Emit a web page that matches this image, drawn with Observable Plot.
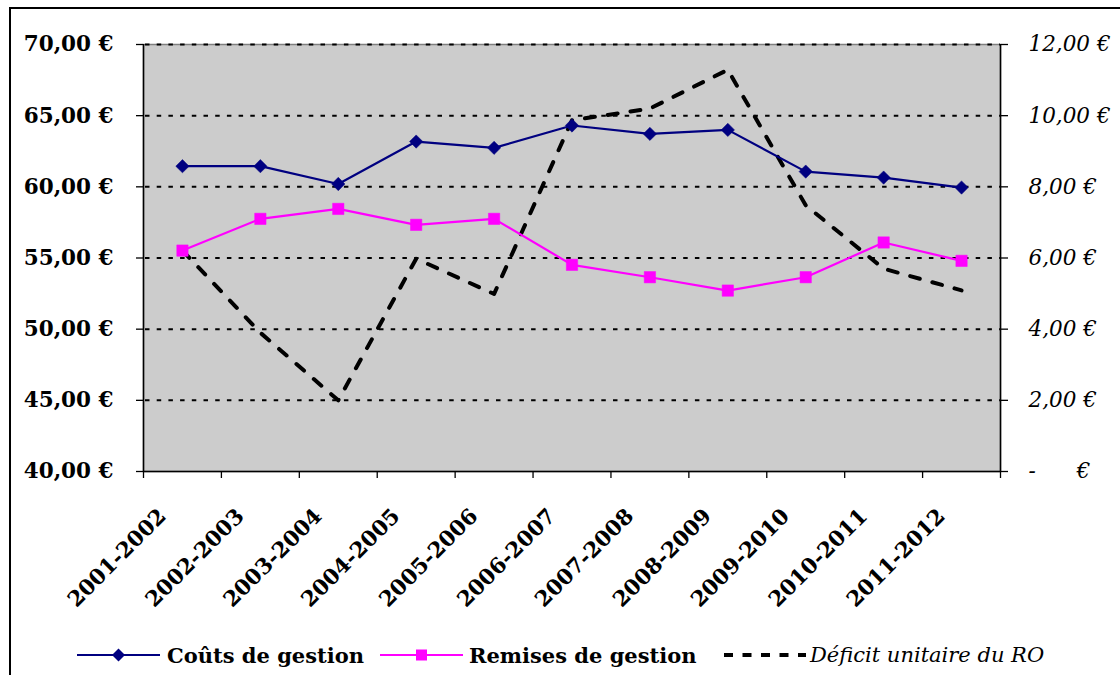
<!DOCTYPE html>
<html><head><meta charset="utf-8">
<script src="https://cdn.jsdelivr.net/npm/d3@7"></script>
<script src="https://cdn.jsdelivr.net/npm/@observablehq/plot@0.6"></script>
<style>
body{margin:0;background:#fff;}
#wrap{position:relative;width:1120px;height:675px;overflow:hidden;background:#fff;}
#frame{position:absolute;left:9px;top:7px;width:1300px;height:900px;border:2px solid #000;box-sizing:border-box;}
#chart{position:absolute;left:0;top:0;}
.item{position:absolute;top:642px;height:26px;display:flex;align-items:center;font-family:"DejaVu Serif";font-size:21px;white-space:nowrap;color:#000;}
.item svg{display:block;}
</style></head>
<body>
<div id="wrap">
  <div id="frame"></div>
  <div id="chart"></div>
  <div id="legend"></div>
</div>
<script>
const categories = ["2001-2002","2002-2003","2003-2004","2004-2005","2005-2006","2006-2007","2007-2008","2008-2009","2009-2010","2010-2011","2011-2012"];
const coutsGestion = [61.45, 61.45, 60.2, 63.18, 62.74, 64.31, 63.72, 64.0, 61.07, 60.65, 59.95];
const remisesGestion = [55.52, 57.75, 58.45, 57.33, 57.75, 54.52, 53.65, 52.71, 53.65, 56.09, 54.8];
const deficitRO = [6.21, 3.9, 2.0, 5.98, 4.99, 9.87, 10.2, 11.29, 7.48, 5.7, 5.09];
const leftTicks = [40, 45, 50, 55, 60, 65, 70];
const rightTicks = [0, 2, 4, 6, 8, 10, 12];
const seriesNames = ["Coûts de gestion", "Remises de gestion", "Déficit unitaire du RO"];

// secondary axis mapping: [0,12] -> [40,70]
const toLeft = v => 40 + v * (70 - 40) / 12;
const fromLeft = v => (v - 40) * 12 / (70 - 40);
const fmt2 = v => d3.format(".2f")(v).replace(".", ",");
const idx = d3.range(categories.length);
const bounds = d3.range(-0.5, categories.length, 1);

const plot = Plot.plot({
  width: 1120,
  height: 625,
  marginLeft: 143,
  marginRight: 120,
  marginTop: 44,
  marginBottom: 154,
  style: {fontFamily: "DejaVu Serif", fontSize: "21.5px", color: "#000", background: "transparent"},
  x: {type: "linear", domain: [-0.5, categories.length - 0.5], axis: null},
  y: {domain: [40, 70], axis: null},
  marks: [
    Plot.frame({fill: "#CCCCCC"}),
    Plot.frame({stroke: "#808080", strokeWidth: 1.5}),
    Plot.ruleY(leftTicks.slice(1), {stroke: "#000", strokeWidth: 2, strokeDasharray: "4.5,7.2", strokeDashoffset: -2}),
    Plot.ruleX([bounds[0], bounds[bounds.length - 1]], {stroke: "#000", strokeWidth: 1.5}),
    Plot.ruleY([40], {stroke: "#000", strokeWidth: 1.5}),
    Plot.axisX({ticks: bounds, tickSize: 7, tickFormat: () => "", strokeWidth: 1.3}),
    Plot.axisX({ticks: idx, tickSize: 0, tickPadding: 0, tickFormat: i => categories[i], tickRotate: -45,
      textAnchor: "end", lineAnchor: "middle", dx: -20, dy: 41, fontWeight: "bold", fontSize: 21.5}),
    Plot.axisY({anchor: "left", ticks: leftTicks, tickSize: 7, tickPadding: 23, tickFormat: v => fmt2(v) + " €",
      fontWeight: "bold", fontSize: 21.5, strokeWidth: 1.3}),
    Plot.axisY({anchor: "right", ticks: rightTicks.map(toLeft), tickSize: 7, tickPadding: 21, textAnchor: "start",
      tickFormat: v => { const r = fromLeft(v); return r === 0 ? "-\u00a0\u00a0\u00a0\u00a0\u00a0\u00a0€" : fmt2(r) + " €"; },
      fontStyle: "italic", fontSize: 21.5, strokeWidth: 1.3}),
    Plot.line(idx, {x: i => i, y: i => toLeft(deficitRO[i]), stroke: "#000", strokeWidth: 4, strokeDasharray: "10,13"}),
    Plot.line(idx, {x: i => i, y: i => coutsGestion[i], stroke: "#000080", strokeWidth: 2.2}),
    Plot.dot(idx, {x: i => i, y: i => coutsGestion[i], symbol: "diamond2", r: 6, fill: "#000080", stroke: "#000080", strokeWidth: 0.5}),
    Plot.line(idx, {x: i => i, y: i => remisesGestion[i], stroke: "#FF00FF", strokeWidth: 2.2}),
    Plot.dot(idx, {x: i => i, y: i => remisesGestion[i], symbol: "square", r: 6.4, fill: "#FF00FF", stroke: "#FF00FF", strokeWidth: 0.5})
  ]
});
document.getElementById("chart").appendChild(plot);

// legend below the chart
const legend = document.getElementById("legend");
const items = [
  {left: 77, textLeft: 167, swatch: `<line x1="0" y1="13" x2="83" y2="13" stroke="#000080" stroke-width="2.2"/><path d="M41.5,6.5L48,13L41.5,19.5L35,13Z" fill="#000080"/>`, style: "font-weight:bold", name: seriesNames[0]},
  {left: 380, textLeft: 469, swatch: `<line x1="0" y1="13" x2="83" y2="13" stroke="#FF00FF" stroke-width="2.2"/><rect x="36" y="7.5" width="11" height="11" fill="#FF00FF"/>`, style: "font-weight:bold", name: seriesNames[1]},
  {left: 724, textLeft: 810, swatch: `<line x1="0" y1="13" x2="82" y2="13" stroke="#000" stroke-width="3.8" stroke-dasharray="9,9.5"/>`, style: "font-style:italic", name: seriesNames[2]}
];
for (const it of items) {
  const d = document.createElement("div");
  d.className = "item";
  d.style.left = it.left + "px";
  d.innerHTML = `<svg width="${it.textLeft - it.left}" height="26">${it.swatch}</svg><span style="${it.style}">${it.name}</span>`;
  legend.appendChild(d);
}
</script>
</body></html>
